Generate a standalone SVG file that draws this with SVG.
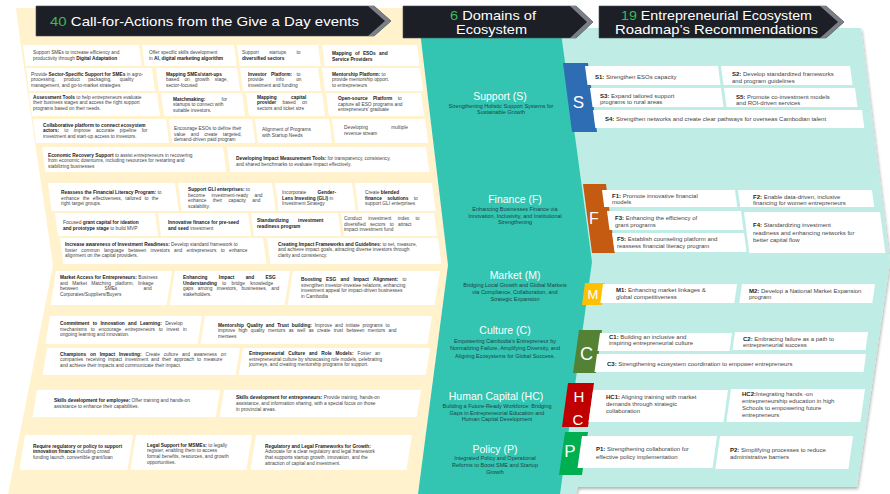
<svg xmlns="http://www.w3.org/2000/svg" width="890" height="494" viewBox="0 0 890 494">
<defs>
<style>
.card{fill:#ffffff}
.t{font-family:"Liberation Sans",Arial,sans-serif;font-size:4.8px;fill:#444444}
.r{font-family:"Liberation Sans",Arial,sans-serif;font-size:6px;fill:#444444}
.b{font-weight:bold;fill:#1a1a1a}
.mt{font-family:"Liberation Sans",Arial,sans-serif;font-size:10.5px;fill:#ffffff;text-anchor:middle}
.ms{font-family:"Liberation Sans",Arial,sans-serif;font-size:5.5px;fill:#1f3f46;text-anchor:middle}
.h{font-family:"Liberation Sans",Arial,sans-serif;font-size:13px;fill:#ffffff}
.g{fill:#3DB85C}
.tab{font-family:"Liberation Sans",Arial,sans-serif;fill:#ffffff;text-anchor:middle}
.hb{fill:#1c1f26;stroke:#4a4d55;stroke-width:0.6}
.bev{fill:#7c7f87}
</style>
<filter id="sh" x="-5%" y="-5%" width="110%" height="110%">
<feDropShadow dx="1" dy="2" stdDeviation="1.5" flood-color="#000000" flood-opacity="0.3"/>
</filter>
</defs>
<rect x="0" y="0" width="890" height="494" fill="#ffffff"/>

<g id="panels">
<polygon id="cream-panel" points="16,8 417,8 421,40 448,265 418,494 8,494 53,265 20,40" fill="#FFF2CC"/>
<polygon id="light-panel" points="540,28 861,28 890,262 857,487 578,487 576,494 540,494" fill="#BFEDE6" filter="url(#sh)"/>
<polygon id="teal-column" points="417,8 558,8 562,40 592,262 560,494 418,494 448,265 421,40" fill="#33C5B1"/>
</g>

<g id="headers">
<g id="header-1">
<polygon class="hb" points="36,6 374,6 391,21 374,36 36,36"/>
<polygon class="bev" points="368,6 374,6 391,21 374,36 368,36 385,21"/>
<text class="h" x="50" y="25.5" textLength="309" lengthAdjust="spacingAndGlyphs"><tspan class="g">40</tspan> Call-for-Actions from the Give a Day  events</text>
</g>
<g id="header-2">
<polygon class="hb" points="403,6 576,6 593,22 576,38 403,38"/>
<polygon class="bev" points="570,6 576,6 593,22 576,38 570,38 587,22"/>
<text class="h" x="450" y="19.5" textLength="86" lengthAdjust="spacingAndGlyphs"><tspan class="g">6</tspan> Domains of</text>
<text class="h" x="456" y="34" textLength="71" lengthAdjust="spacingAndGlyphs">Ecosystem</text>
</g>
<g id="header-3">
<polygon class="hb" points="599,6 826,6 844,22 826,38 599,38"/>
<polygon class="bev" points="820,6 826,6 844,22 826,38 820,38 838,22"/>
<text class="h" x="621" y="19.5" textLength="191" lengthAdjust="spacingAndGlyphs"><tspan class="g">19</tspan> Entrepreneurial Ecosystem</text>
<text class="h" x="615" y="34" textLength="203" lengthAdjust="spacingAndGlyphs">Roadmap’s Recommendations</text>
</g>
</g>

<g id="call-for-actions">
<g id="cfa-01"><polygon class="card" points="23,45 139,45 141.7,66 25.7,66"/>
<text class="t" x="33" y="54.4">Support SMEs to increase efficiency and</text>
<text class="t" x="33" y="60.1">productivity through <tspan class="b">Digital Adaptation</tspan></text></g>
<g id="cfa-02"><polygon class="card" points="142,45 234,45 236.7,66 144.7,66"/>
<text class="t" x="149" y="54.4">Offer specific skills development</text>
<text class="t" x="149" y="60.1">in <tspan class="b">AI, digital marketing algorithm</tspan></text></g>
<g id="cfa-03"><polygon class="card" points="237,45 318,45 320.7,66 239.7,66"/>
<text class="t" x="242" y="54.4" word-spacing="9">Support startups to</text>
<text class="t" x="242" y="60.1"><tspan class="b">diversified sectors</tspan></text></g>
<g id="cfa-04"><polygon class="card" points="322,45 417,45 419.7,66 324.7,66"/>
<text class="t" x="332" y="55.2" word-spacing="2"><tspan class="b">Mapping of ESOs and</tspan></text>
<text class="t" x="332" y="60.9"><tspan class="b">Service Providers</tspan></text></g>

<g id="cfa-05"><polygon class="card" points="26,68 152,68 155,91 29,91"/>
<text class="t" x="31" y="75.5">Provide <tspan class="b">Sector-Specific Support for SMEs</tspan> in agro-</text>
<text class="t" x="31" y="81.2" word-spacing="7">processing, product packaging, quality</text>
<text class="t" x="31" y="86.9">management, and go-to-market strategies</text></g>
<g id="cfa-06"><polygon class="card" points="156,68 237,68 240,91 159,91"/>
<text class="t" x="166" y="75.5"><tspan class="b">Mapping SMEs/start-ups</tspan></text>
<text class="t" x="166" y="81.2" word-spacing="4">based on growth stage,</text>
<text class="t" x="166" y="86.9">sector-focused</text></g>
<g id="cfa-07"><polygon class="card" points="240,68 318,68 321,91 243,91"/>
<text class="t" x="248" y="75.5" word-spacing="3"><tspan class="b">Investor Platform:</tspan> to</text>
<text class="t" x="248" y="81.2" word-spacing="11">provide info on</text>
<text class="t" x="248" y="86.9">investment and funding</text></g>
<g id="cfa-08"><polygon class="card" points="322,68 420,68 423,91 325,91"/>
<text class="t" x="332" y="75.5"><tspan class="b">Mentorship Platform:</tspan> to</text>
<text class="t" x="332" y="81.2">provide mentorship opport.</text>
<text class="t" x="332" y="86.9">to entrepreneurs</text></g>

<g id="cfa-09"><polygon class="card" points="29,93 157,93 160,116 32,116"/>
<text class="t" x="33" y="98.6"><tspan class="b">Assessment Tools</tspan> to help entrepreneurs evaluate</text>
<text class="t" x="33" y="104.3">their business stages and access the right support</text>
<text class="t" x="33" y="110">programs based on their needs.</text></g>
<g id="cfa-10"><polygon class="card" points="161,93 242,93 245,116 164,116"/>
<text class="t" x="173" y="100.7" word-spacing="15"><tspan class="b">Matchmaking:</tspan> for</text>
<text class="t" x="173" y="106.4">startups to connect with</text>
<text class="t" x="173" y="112.1">suitable investors.</text></g>
<g id="cfa-11"><polygon class="card" points="246,93 322,93 325,116 249,116"/>
<text class="t" x="257" y="98.6" word-spacing="13"><tspan class="b">Mapping capital</tspan></text>
<text class="t" x="257" y="104.3" word-spacing="5"><tspan class="b">provider</tspan> based on</text>
<text class="t" x="257" y="110">sectors and ticket size</text></g>
<g id="cfa-12"><polygon class="card" points="326,93 421,93 424,116 329,116"/>
<text class="t" x="338" y="100" word-spacing="4"><tspan class="b">Open-source Platform</tspan> to</text>
<text class="t" x="338" y="105.7">capture all ESO programs and</text>
<text class="t" x="338" y="111.4">entrepreneurs’ graduate</text></g>

<g id="cfa-13"><polygon class="card" points="33,119 166,119 169.1,143 36.1,143"/>
<text class="t" x="43" y="126.7"><tspan class="b">Collaborative platform to connect ecosystem</tspan></text>
<text class="t" x="43" y="132.4" word-spacing="4"><tspan class="b">actors:</tspan> to improve accurate pipeline for</text>
<text class="t" x="43" y="138.1">investment and start-up access to investors.</text></g>
<g id="cfa-14"><polygon class="card" points="169,119 252,119 255.1,143 172.1,143"/>
<text class="t" x="174" y="130">Encourage ESOs to define their</text>
<text class="t" x="174" y="135.7" word-spacing="4">value and create targeted,</text>
<text class="t" x="174" y="141.4">demand-driven paid program</text></g>
<g id="cfa-15"><polygon class="card" points="255,119 329,119 332.1,143 258.1,143"/>
<text class="t" x="262" y="131">Alignment of Programs</text>
<text class="t" x="262" y="136.7">with Startup Needs</text></g>
<g id="cfa-16"><polygon class="card" points="332,119 425,119 428.1,143 335.1,143"/>
<text class="t" x="344" y="129" word-spacing="22">Developing multiple</text>
<text class="t" x="344" y="134.7">revenue stream</text></g>

<g id="cfa-17"><polygon class="card" points="42,147 223,147 226.3,172 45.3,172"/>
<text class="t" x="48" y="156.7"><tspan class="b">Economic Recovery Support</tspan>  to assist entrepreneurs in recovering</text>
<text class="t" x="48" y="162.4">from economic downturns, including resources for restarting and</text>
<text class="t" x="48" y="168.1">stabilizing businesses</text></g>
<g id="cfa-18"><polygon class="card" points="227,147 426,147 429.3,172 230.3,172"/>
<text class="t" x="236" y="160"><tspan class="b">Developing Impact Measurement Tools:</tspan> for transparency, consistency,</text>
<text class="t" x="236" y="165.7">and shared benchmarks to evaluate impact effectively.</text></g>

<g id="cfa-19"><polygon class="card" points="48,183 175,183 178.6,211 51.6,211"/>
<text class="t" x="61" y="194"><tspan class="b">Reassess the Financial Literacy Program:</tspan> to</text>
<text class="t" x="61" y="199.7" word-spacing="2">enhance the effectiveness, tailored to the</text>
<text class="t" x="61" y="205.4">right target groups.</text></g>
<g id="cfa-20"><polygon class="card" points="178,183 272,183 275.6,211 181.6,211"/>
<text class="t" x="188" y="191"><tspan class="b">Support GLI enterprises:</tspan> to</text>
<text class="t" x="188" y="196.7" word-spacing="5">become investment-ready and</text>
<text class="t" x="188" y="202.4" word-spacing="5">enhance their capacity and</text>
<text class="t" x="188" y="208.1">scalability.</text></g>
<g id="cfa-21"><polygon class="card" points="275,183 352,183 355.6,211 278.6,211"/>
<text class="t" x="282" y="194" word-spacing="10">Incorporate <tspan class="b">Gender-</tspan></text>
<text class="t" x="282" y="199.7"><tspan class="b">Lens Investing (GLI)</tspan> in</text>
<text class="t" x="282" y="205.4">Investment Strategy</text></g>
<g id="cfa-22"><polygon class="card" points="355,183 432,183 435.6,211 358.6,211"/>
<text class="t" x="365" y="194">Create <tspan class="b">blended</tspan></text>
<text class="t" x="365" y="199.7" word-spacing="4"><tspan class="b">finance solutions</tspan> to</text>
<text class="t" x="365" y="205.4">support GLI enterprises</text></g>

<g id="cfa-23"><polygon class="card" points="55,213 155,213 158,236 58,236"/>
<text class="t" x="63" y="224">Focused <tspan class="b">grant capital for ideation</tspan></text>
<text class="t" x="63" y="229.7"><tspan class="b">and prototype stage</tspan> to build MVP</text></g>
<g id="cfa-24"><polygon class="card" points="158,213 248,213 251,236 161,236"/>
<text class="t" x="168" y="224"><tspan class="b">Innovative finance for pre-seed</tspan></text>
<text class="t" x="168" y="229.7"><tspan class="b">and seed</tspan> investment</text></g>
<g id="cfa-25"><polygon class="card" points="251,213 338,213 341,236 254,236"/>
<text class="t" x="257" y="222.4" word-spacing="8"><tspan class="b">Standardizing investment</tspan></text>
<text class="t" x="257" y="228.1"><tspan class="b">readiness program</tspan></text></g>
<g id="cfa-26"><polygon class="card" points="341,213 434,213 437,236 344,236"/>
<text class="t" x="344" y="220" word-spacing="5">Conduct investment index to</text>
<text class="t" x="344" y="225.7" word-spacing="3">diversified sectors to attract</text>
<text class="t" x="344" y="231.4">impact investment fund</text></g>

<g id="cfa-27"><polygon class="card" points="60,238 263,238 266.4,264 63.4,264"/>
<text class="t" x="65" y="246"><tspan class="b">Increase awareness of Investment Readiness:</tspan> Develop standard framework to</text>
<text class="t" x="65" y="251.7" word-spacing="3">foster common language between investors and entrepreneurs to enhance</text>
<text class="t" x="65" y="257.4">alignment on the capital providers.</text></g>
<g id="cfa-28"><polygon class="card" points="267,238 438,238 441.4,264 270.4,264"/>
<text class="t" x="278" y="245.7"><tspan class="b">Creating Impact Frameworks and Guidelines:</tspan> to set, measure,</text>
<text class="t" x="278" y="251.4">and achieve impact goals, attracting diverse investors through</text>
<text class="t" x="278" y="257.1">clarity and consistency.</text></g>

<g id="cfa-29"><polygon class="card" points="56,271 172,271 166.6,305 50.6,305"/>
<text class="t" x="60" y="279"><tspan class="b">Market Access for Entrepreneurs:</tspan> Business</text>
<text class="t" x="60" y="284.7" word-spacing="3">and Market Matching platform, linkage</text>
<text class="t" x="60" y="290.4" word-spacing="25">between SMEs and</text>
<text class="t" x="60" y="296.1">Corporates/Suppliers/Buyers</text></g>
<g id="cfa-30"><polygon class="card" points="175,271 290,271 284.6,305 169.6,305"/>
<text class="t" x="183" y="279" word-spacing="10"><tspan class="b">Enhancing Impact and ESG</tspan></text>
<text class="t" x="183" y="284.7" word-spacing="4"><tspan class="b">Understanding</tspan> to bridge knowledge</text>
<text class="t" x="183" y="290.4" word-spacing="3">gaps among investors, businesses, and</text>
<text class="t" x="183" y="296.1">stakeholders.</text></g>
<g id="cfa-31"><polygon class="card" points="293,271 440,271 434.6,305 287.6,305"/>
<text class="t" x="301" y="281" word-spacing="3"><tspan class="b">Boosting ESG and Impact Alignment:</tspan> to</text>
<text class="t" x="301" y="286.7">strengthen investor-investee relations, enhancing</text>
<text class="t" x="301" y="292.4">investment appeal for impact-driven businesses</text>
<text class="t" x="301" y="298.1">in Cambodia</text></g>

<g id="cfa-32"><polygon class="card" points="50,316 202,316 197.5,344 45.5,344"/>
<text class="t" x="60" y="325" word-spacing="2"><tspan class="b">Commitment to Innovation and Learning:</tspan> Develop</text>
<text class="t" x="60" y="330.7" word-spacing="2.5">mechanisms to encourage entrepreneurs to invest in</text>
<text class="t" x="60" y="336.4">ongoing learning and innovation.</text></g>
<g id="cfa-33"><polygon class="card" points="205,316 432,316 427.5,344 200.5,344"/>
<text class="t" x="218" y="326.7" word-spacing="1.5"><tspan class="b">Mentorship Quality and Trust building:</tspan> Improve and initiate programs to</text>
<text class="t" x="218" y="332.4" word-spacing="2">improve high quality mentors as well as create trust between mentors and</text>
<text class="t" x="218" y="338.1">mentees</text></g>

<g id="cfa-34"><polygon class="card" points="47,348 240,348 235.7,375 42.7,375"/>
<text class="t" x="60" y="355.7" word-spacing="2.5"><tspan class="b">Champions on Impact Investing:</tspan> Create culture and awareness on</text>
<text class="t" x="60" y="361.4" word-spacing="1.5">companies receiving impact investment and their approach to measure</text>
<text class="t" x="60" y="367.1">and achieve their impacts and communicate their impact.</text></g>
<g id="cfa-35"><polygon class="card" points="243,348 430,348 425.7,375 238.7,375"/>
<text class="t" x="249" y="355" word-spacing="2.5"><tspan class="b">Entrepreneurial Culture and Role Models:</tspan> Foster an</text>
<text class="t" x="249" y="360.7">entrepreneurial culture by showcasing role models, celebrating</text>
<text class="t" x="249" y="366.4">journeys, and creating mentorship programs for support.</text></g>

<g id="cfa-36"><polygon class="card" points="37,390 220,390 215.7,417 32.7,417"/>
<text class="t" x="54" y="402.4"><tspan class="b">Skills development for employee:</tspan> Offer training and hands-on</text>
<text class="t" x="54" y="408">assistance to enhance their capabilities.</text></g>
<g id="cfa-37"><polygon class="card" points="224,390 421,390 416.7,417 219.7,417"/>
<text class="t" x="236" y="399.4"><tspan class="b">Skills development for entrepreneurs:</tspan> Provide training, hands-on</text>
<text class="t" x="236" y="405.1">assistance, and information sharing, with a special focus on those</text>
<text class="t" x="236" y="410.8">in provincial areas.</text></g>

<g id="cfa-38"><polygon class="card" points="25,435 133,435 127.4,470 19.4,470"/>
<text class="t" x="33" y="447.7"><tspan class="b">Require regulatory or policy to support</tspan></text>
<text class="t" x="33" y="453.4"><tspan class="b">innovation finance</tspan> including crowd</text>
<text class="t" x="33" y="459.1">funding launch, convertible grant/loan</text></g>
<g id="cfa-39"><polygon class="card" points="136,435 252,435 246.4,470 130.4,470"/>
<text class="t" x="147" y="446.7"><tspan class="b">Legal Support for MSMEs:</tspan> to legally</text>
<text class="t" x="147" y="452.4">register, enabling them to access</text>
<text class="t" x="147" y="458.1">formal benefits, resources, and growth</text>
<text class="t" x="147" y="463.8">opportunities.</text></g>
<g id="cfa-40"><polygon class="card" points="256,435 412,435 406.4,470 250.4,470"/>
<text class="t" x="265" y="447.7"><tspan class="b">Regulatory and Legal Frameworks for Growth:</tspan></text>
<text class="t" x="265" y="453.4">Advocate for a clear regulatory and legal framework</text>
<text class="t" x="265" y="459.1">that supports startup growth, innovation, and the</text>
<text class="t" x="265" y="464.8">attraction of capital and investment.</text></g>
</g>

<g id="domains">
<g id="domain-support">
<text class="mt" x="500" y="99.6">Support (S)</text>
<text class="ms" x="501" y="107.6">Strengthening Holistic Support Systems for</text>
<text class="ms" x="501" y="114.2">Sustainable Growth</text></g>
<g id="domain-finance">
<text class="mt" x="515" y="202.6">Finance (F)</text>
<text class="ms" x="515" y="210.9">Enhancing Businesses Finance via</text>
<text class="ms" x="515" y="217.6">Innovation, Inclusivity, and Institutional</text>
<text class="ms" x="515" y="224.2">Strengthening</text></g>
<g id="domain-market">
<text class="mt" x="515" y="279.3">Market (M)</text>
<text class="ms" x="515" y="286.9">Bridging Local Growth and Global Markets</text>
<text class="ms" x="515" y="294.2">via Compliance, Collaboration, and</text>
<text class="ms" x="515" y="300.9">Strategic Expansion</text></g>
<g id="domain-culture">
<text class="mt" x="505" y="334.3">Culture (C)</text>
<text class="ms" x="505" y="342.6">Empowering Cambodia’s Entrepreneur by</text>
<text class="ms" x="505" y="350.2">Normalizing Failure, Amplifying Diversity, and</text>
<text class="ms" x="505" y="357.6">Aligning Ecosystems for Global Success.</text></g>
<g id="domain-human-capital">
<text class="mt" x="496" y="400.3">Human Capital (HC)</text>
<text class="ms" x="497" y="407.9">Building a Future-Ready Workforce: Bridging</text>
<text class="ms" x="497" y="414.6">Gaps in Entrepreneurial Education and</text>
<text class="ms" x="497" y="421.2">Human Capital Development</text></g>
<g id="domain-policy">
<text class="mt" x="495" y="452.6">Policy (P)</text>
<text class="ms" x="495" y="460.2">Integrated Policy and Operational</text>
<text class="ms" x="495" y="466.9">Reforms to Boost SME and Startup</text>
<text class="ms" x="495" y="473.6">Growth</text></g>
</g>

<g id="recommendations">
<g id="rec-support">
<polygon points="563,63 588,63 597,132 572,132" fill="#2E6DB4"/>
<text class="tab" x="578.5" y="107.8" font-size="17">S</text>
<polygon class="card" points="585,66 718,66 720.5,85 587.5,85"/>
<text class="r" x="595" y="78.7"><tspan class="b">S1:</tspan> Strengthen ESOs capacity</text>
<polygon class="card" points="721,66 850,66 852.5,85 723.5,85"/>
<text class="r" x="732" y="76.4"><tspan class="b">S2:</tspan> Develop standardized frameworks</text>
<text class="r" x="732" y="82.8">and program guidelines</text>
<polygon class="card" points="590,88 721,88 723.5,107 592.5,107"/>
<text class="r" x="600" y="97.8"><tspan class="b">S3:</tspan> Expand tailored support</text>
<text class="r" x="600" y="104.4">programs to rural areas</text>
<polygon class="card" points="724,88 855,88 857.5,107 726.5,107"/>
<text class="r" x="736" y="98.8"><tspan class="b">S5:</tspan> Promote co-investment models</text>
<text class="r" x="736" y="104.9">and ROI-driven services</text>
<polygon class="card" points="593,110 862,110 864.3,128 595.3,128"/>
<text class="r" x="605" y="120.5"><tspan class="b">S4:</tspan> Strengthen networks and create clear pathways for overseas Cambodian talent</text>
</g>
<g id="rec-finance">
<polygon points="583,184 606,184 615,253 592,253" fill="#C55A11"/>
<text class="tab" x="594" y="223.8" font-size="16">F</text>
<polygon class="card" points="602,190 735,190 737.2,207 604.2,207"/>
<text class="r" x="612" y="197.9"><tspan class="b">F1:</tspan> Promote innovative financial</text>
<text class="r" x="612" y="204.4">models</text>
<polygon class="card" points="738,190 872,190 874.2,207 740.2,207"/>
<text class="r" x="753" y="198.9"><tspan class="b">F2:</tspan> Enable data-driven, inclusive</text>
<text class="r" x="753" y="205.4">financing for women entrepreneurs</text>
<polygon class="card" points="607,211 741,211 743.5,230 609.5,230"/>
<text class="r" x="615" y="219.9"><tspan class="b">F3:</tspan> Enhancing the efficiency of</text>
<text class="r" x="615" y="226.5">grant programs</text>
<polygon class="card" points="744,212 880,212 885.3,253 749.3,253"/>
<text class="r" x="753" y="227.1"><tspan class="b">F4:</tspan> Standardizing investment</text>
<text class="r" x="753" y="234.5">readiness and enhancing networks for</text>
<text class="r" x="753" y="242.1">better capital flow</text>
<polygon class="card" points="612,233 744,233 746.5,252 614.5,252"/>
<text class="r" x="617" y="241.1"><tspan class="b">F5:</tspan> Establish counseling platform and</text>
<text class="r" x="617" y="247.8">reassess financial literacy program</text>
</g>
<g id="rec-market">
<polygon points="585,283 605,283 602,305 582,305" fill="#FFC000"/>
<text class="tab" x="593" y="298.8" font-size="13">M</text>
<polygon class="card" points="603,284 737,284 734.3,303 600.3,303"/>
<text class="r" x="616" y="292.1"><tspan class="b">M1:</tspan> Enhancing market linkages &amp;</text>
<text class="r" x="616" y="298.8">global competitiveness</text>
<polygon class="card" points="742,284 875,284 872.3,303 739.3,303"/>
<text class="r" x="749" y="292.8"><tspan class="b">M2:</tspan> Develop a National Market Expansion</text>
<text class="r" x="749" y="299.4">program</text>
</g>
<g id="rec-culture">
<polygon points="579,330 602,330 596,373 573,373" fill="#548235"/>
<text class="tab" x="586.5" y="359.5" font-size="18">C</text>
<polygon class="card" points="600,333 732,333 729.5,351 597.5,351"/>
<text class="r" x="609" y="338.8"><tspan class="b">C1:</tspan> Building an inclusive and</text>
<text class="r" x="609" y="345.4">inspiring entrepreneurial culture</text>
<polygon class="card" points="735,332 868,332 865.5,350 732.5,350"/>
<text class="r" x="743" y="341.4"><tspan class="b">C2:</tspan> Embracing failure as a path to</text>
<text class="r" x="743" y="347.4">entrepreneurial success</text>
<polygon class="card" points="597,354 866,354 863.5,372 594.5,372"/>
<text class="r" x="607" y="366.1"><tspan class="b">C3:</tspan> Strengthening ecosystem coordination to empower entrepreneurs</text>
</g>
<g id="rec-human-capital">
<polygon points="568,383 594,383 588,427 562,427" fill="#C00000"/>
<text class="tab" x="579" y="402.4" font-size="15">H</text>
<text class="tab" x="578" y="424.6" font-size="15">C</text>
<polygon class="card" points="593,390 728,390 723.5,422 588.5,422"/>
<text class="r" x="606" y="398.8"><tspan class="b">HC1:</tspan> Aligning training with market</text>
<text class="r" x="606" y="406.1">demands through strategic</text>
<text class="r" x="606" y="413.1">collaboration</text>
<polygon class="card" points="731,389 865,389 860.4,422 726.4,422"/>
<text class="r" x="742" y="396.3" font-size="5.6"><tspan class="b">HC2:</tspan>Integrating hands -on</text>
<text class="r" x="742" y="403.3" font-size="5.6">entrepreneurship education in high</text>
<text class="r" x="742" y="410.3" font-size="5.6">Schools to empowering future</text>
<text class="r" x="742" y="417" font-size="5.6">entrepreneurs</text>
</g>
<g id="rec-policy">
<polygon points="565,432 588,432 582,475 559,475" fill="#00B050"/>
<text class="tab" x="570" y="457" font-size="17">P</text>
<polygon class="card" points="582,436 717,436 712.5,468 577.5,468"/>
<text class="r" x="596" y="451.2" font-size="6.2"><tspan class="b">P1:</tspan> Strengthening collaboration for</text>
<text class="r" x="596" y="458.9" font-size="6.2">effective policy implementation</text>
<polygon class="card" points="720,436 853,436 848.4,469 715.4,469"/>
<text class="r" x="730" y="452.2" font-size="6.2"><tspan class="b">P2:</tspan> Simplifying processes to reduce</text>
<text class="r" x="730" y="458.9" font-size="6.2">administrative barriers</text>
</g>
</g>

<g id="connectors"></g>
</svg>
